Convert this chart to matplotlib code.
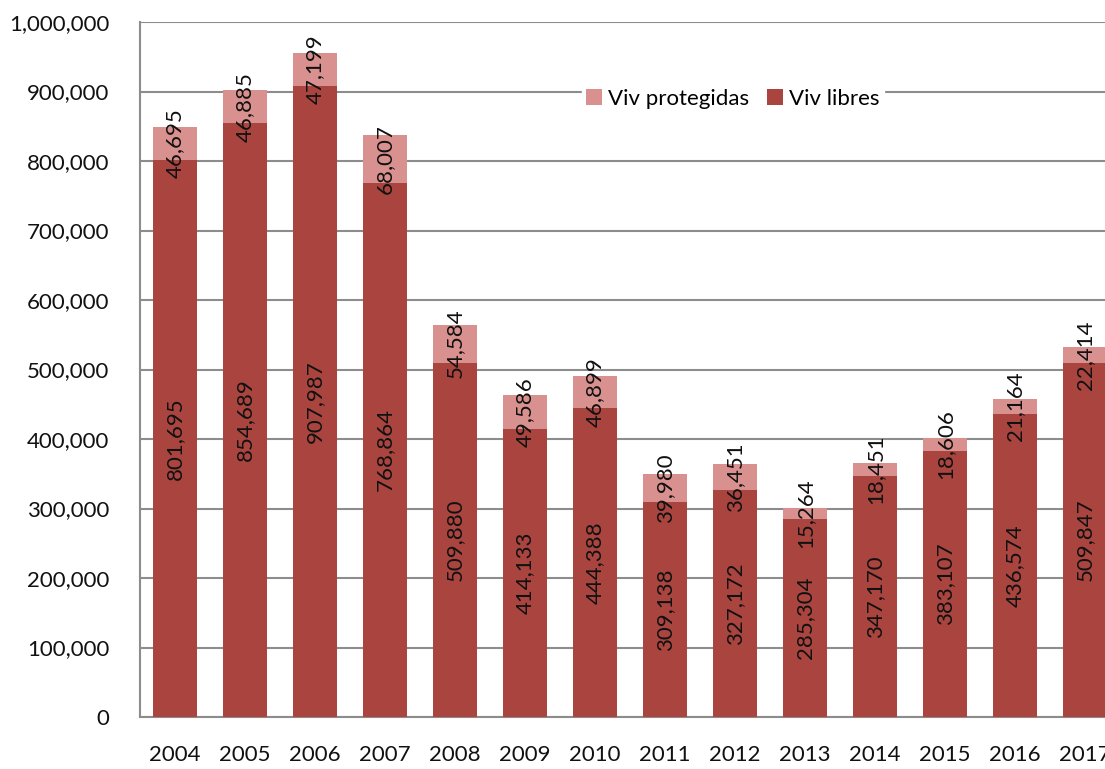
import numpy as np
import matplotlib
matplotlib.use('Agg')
import matplotlib.pyplot as plt
from matplotlib.ticker import FuncFormatter

years = ['2004', '2005', '2006', '2007', '2008', '2009', '2010',
         '2011', '2012', '2013', '2014', '2015', '2016', '2017']
viv_libres = [801695, 854689, 907987, 768864, 509880, 414133, 444388,
              309138, 327172, 285304, 347170, 383107, 436574, 509847]
viv_protegidas = [46695, 46885, 47199, 68007, 54584, 49586, 46899,
                  39980, 36451, 15264, 18451, 18606, 21164, 22414]

dark_red = '#A9443F'
light_red = '#D8918F'
grid_col = '#8C8C8C'

plt.rcParams['font.family'] = ['Lato', 'DejaVu Sans']

fig = plt.figure(figsize=(11.05, 7.69), dpi=100)
# axes runs past the right edge, like the cropped original
ax = fig.add_axes([140/1105, 52/769, 980/1105, 695/769])

x = np.arange(len(years))
w = 0.64
libres = np.array(viv_libres)
prot = np.array(viv_protegidas)

ax.bar(x, libres, w, color=dark_red, label='Viv libres', zorder=3)
ax.bar(x, prot, w, bottom=libres, color=light_red, label='Viv protegidas', zorder=3)

for i in range(len(years)):
    ax.text(x[i], libres[i]/2, '{:,}'.format(libres[i]), rotation=90,
            ha='center', va='center', fontsize=16, color='#111111', zorder=4)
    ax.text(x[i], libres[i] + prot[i]/2, '{:,}'.format(prot[i]), rotation=90,
            ha='center', va='center', fontsize=16, color='#111111', zorder=4)

ax.set_xlim(-0.5, len(years) - 0.5)
ax.set_ylim(0, 1000000)
ax.set_yticks(np.arange(0, 1000001, 100000))
ax.yaxis.set_major_formatter(FuncFormatter(lambda v, p: '{:,}'.format(int(v))))
ax.set_xticks(x)
ax.set_xticklabels(years)
ax.tick_params(axis='both', length=0, labelsize=16, colors='#111111')
ax.tick_params(axis='x', pad=20)
ax.tick_params(axis='y', pad=22)

ax.grid(axis='y', color=grid_col, linewidth=1.5, zorder=0)
for s in ['top', 'right']:
    ax.spines[s].set_visible(False)
for s in ['left', 'bottom']:
    ax.spines[s].set_color(grid_col)
    ax.spines[s].set_linewidth(1.5)

handles, labels = ax.get_legend_handles_labels()
leg = fig.legend(handles[::-1], labels[::-1], loc='center', ncol=2,
                 bbox_to_anchor=(733/1105, 1 - 99/769), fontsize=16,
                 frameon=True, handlelength=0.7, handleheight=0.7,
                 handletextpad=0.3, columnspacing=0.8, borderpad=0.2)
leg.get_frame().set_facecolor('white')
leg.get_frame().set_edgecolor('white')
leg.get_frame().set_alpha(1)

fig.savefig('out.png', dpi=100)
